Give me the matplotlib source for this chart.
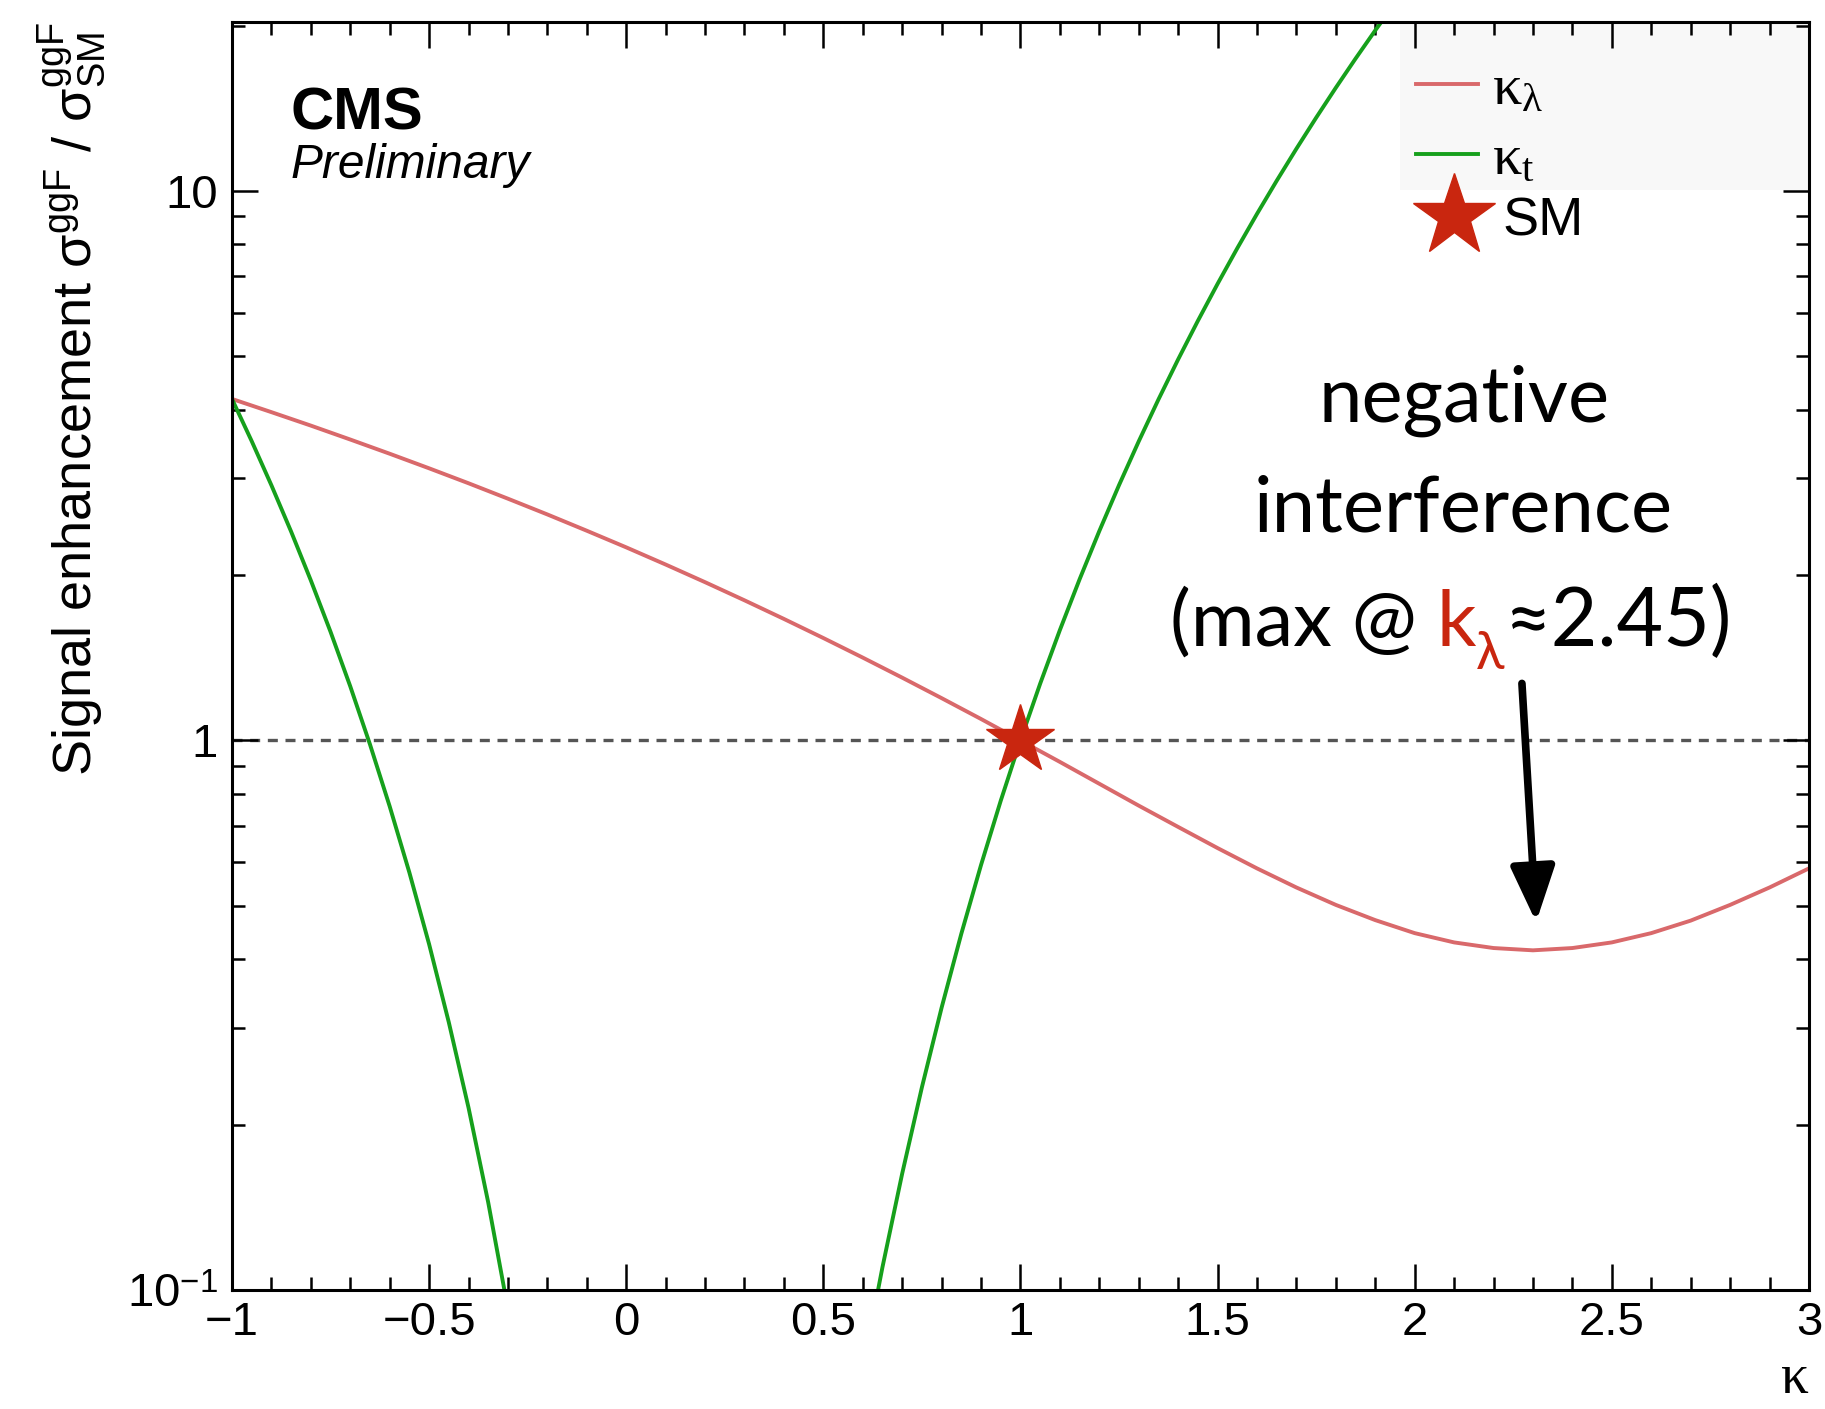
import numpy as np
import matplotlib
matplotlib.use("Agg")
import matplotlib.pyplot as plt
from matplotlib.ticker import MultipleLocator, LogLocator, NullFormatter
from matplotlib.lines import Line2D
from matplotlib.patches import Rectangle

plt.rcParams['font.family'] = ['Liberation Sans', 'DejaVu Sans']
plt.rcParams['mathtext.fontset'] = 'custom'
plt.rcParams['mathtext.rm'] = 'Liberation Sans'
plt.rcParams['mathtext.it'] = 'Liberation Serif'
plt.rcParams['mathtext.sf'] = 'Liberation Sans'

# kappa_lambda scan (kappa_t = 1), ratio to SM
klam_x = [-1.0, -0.9, -0.8, -0.7, -0.6, -0.5, -0.4, -0.3, -0.2, -0.1, 0.0,
          0.1, 0.2, 0.3, 0.4, 0.5, 0.6, 0.7, 0.8, 0.9, 1.0,
          1.1, 1.2, 1.3, 1.4, 1.5, 1.6, 1.7, 1.8, 1.9, 2.0,
          2.1, 2.2, 2.3, 2.4, 2.5, 2.6, 2.7, 2.8, 2.9, 3.0]
klam_y = [4.183, 3.958, 3.741, 3.529, 3.325, 3.128, 2.938, 2.754, 2.578, 2.408, 2.246,
          2.090, 1.941, 1.799, 1.664, 1.536, 1.415, 1.301, 1.194, 1.094, 1.000,
          0.914, 0.834, 0.761, 0.696, 0.637, 0.585, 0.540, 0.502, 0.471, 0.446,
          0.429, 0.419, 0.415, 0.419, 0.429, 0.446, 0.470, 0.502, 0.540, 0.585]

# kappa_t scan (kappa_lambda = 1), two branches
kt_left_x = [-1.0, -0.95, -0.9, -0.85, -0.8, -0.75, -0.7, -0.65, -0.6, -0.55,
             -0.5, -0.45, -0.4, -0.35, -0.3, -0.25]
kt_left_y = [4.183, 3.506, 2.914, 2.400, 1.956, 1.577, 1.255, 0.984, 0.759, 0.575,
             0.426, 0.307, 0.2147, 0.1443, 0.0923, 0.0553]
kt_right_x = [0.6, 0.65, 0.7, 0.75, 0.8, 0.85, 0.9, 0.95, 1.0, 1.05, 1.1, 1.15,
              1.2, 1.25, 1.3, 1.35, 1.4, 1.45, 1.5, 1.55, 1.6, 1.65, 1.7, 1.75,
              1.8, 1.85, 1.9, 1.95]
kt_right_y = [0.0718, 0.110, 0.1628, 0.2337, 0.3263, 0.4448, 0.5933, 0.7767, 1.0,
              1.2685, 1.588, 1.9645, 2.4045, 2.9145, 3.5017, 4.1735, 4.9376, 5.802,
              6.775, 7.866, 9.084, 10.437, 11.936, 13.591, 15.413, 17.412, 19.598, 21.984]

sm_x, sm_y = 1.0, 1.0
arrow_start = (2.272, 1.27)
arrow_end = (2.308, 0.467)

red = '#d9696b'
green = '#16a01c'
star_red = '#c9260f'

fig = plt.figure(figsize=(18.25, 14.09), dpi=100)
ax = fig.add_axes([0.1271, 0.0845, 0.8641, 0.8999])

ax.set_xlim(-1, 3)
ax.set_yscale('log')
ax.set_ylim(0.1, 20.3)

# legend background box
ax.add_patch(Rectangle((0.7407, 0.8675), 0.2593, 0.1325, transform=ax.transAxes,
                       facecolor='#f8f8f8', edgecolor='none', zorder=0))

ax.axhline(1.0, color='#555555', lw=2.4, ls=(0, (3, 2.3)), zorder=1)
ax.plot(klam_x, klam_y, color=red, lw=2.8, zorder=2)
ax.plot(kt_left_x, kt_left_y, color=green, lw=2.8, zorder=2)
ax.plot(kt_right_x, kt_right_y, color=green, lw=2.8, zorder=2)
ax.plot([sm_x], [sm_y], marker='*', ms=52, color=star_red, mec=star_red, ls='none', zorder=5)

ax.annotate('', xy=arrow_end, xytext=arrow_start,
            arrowprops=dict(arrowstyle='-|>,head_length=0.45,head_width=0.18',
                            lw=5.5, color='black', mutation_scale=75,
                            shrinkA=0, shrinkB=0), zorder=6)

# axes style (ROOT like)
ax.xaxis.set_major_locator(MultipleLocator(0.5))
ax.xaxis.set_minor_locator(MultipleLocator(0.1))
ax.set_xticks([-1, -0.5, 0, 0.5, 1, 1.5, 2, 2.5, 3],
              labels=['\u22121', '\u22120.5', '0', '0.5', '1', '1.5', '2', '2.5', '3'])
ax.set_yticks([0.1, 1, 10], labels=[r'10$^{\mathrm{-1}}$', '1', '10'])
ax.yaxis.set_minor_locator(LogLocator(base=10, subs=np.arange(2, 10)))
ax.yaxis.set_minor_formatter(NullFormatter())
ax.tick_params(which='both', direction='in', top=True, right=True, width=1.8)
ax.tick_params(which='major', length=19)
ax.tick_params(which='minor', length=9.5)
ax.tick_params(axis='x', labelsize=34, pad=8)
ax.tick_params(axis='y', labelsize=34, pad=10)
for s in ax.spines.values():
    s.set_linewidth(2.2)

ax.set_ylabel(r'Signal enhancement $\mathrm{\sigma^{ggF}}$ / $\mathrm{\sigma^{ggF}_{SM}}$',
              fontsize=39, loc='top', labelpad=14)
ax.set_xlabel(r'$\kappa$', fontsize=40, loc='right', labelpad=6)

ax.text(0.0374, 0.915, 'CMS', transform=ax.transAxes, fontsize=43,
        fontweight='bold', va='baseline')
ax.text(0.0374, 0.877, 'Preliminary', transform=ax.transAxes, fontsize=34.5,
        fontstyle='italic', va='baseline')

# legend: two lines inside the grey box, SM star below it
line_handles = [Line2D([], [], color=red, lw=2.8),
                Line2D([], [], color=green, lw=2.8)]
leg1 = ax.legend(line_handles, [r'$\kappa_{\lambda}$', r'$\kappa_{t}$'],
                 loc='upper left', bbox_to_anchor=(0.751, 0.968),
                 frameon=False, fontsize=42, handlelength=1.05, handletextpad=0.25,
                 labelspacing=0.27, borderpad=0, borderaxespad=0)
ax.add_artist(leg1)
star_handle = [Line2D([], [], marker='*', ms=62, color=star_red, ls='none')]
ax.legend(star_handle, ['SM'], loc='center left', bbox_to_anchor=(0.754, 0.843),
          frameon=False, fontsize=39, handlelength=1.2, handletextpad=0.3,
          borderpad=0, borderaxespad=0)

# annotation text
afont = dict(family='Lato', fontsize=56, color='black')
ax.text(0.781, 0.685, 'negative', transform=ax.transAxes, ha='center', va='baseline', **afont)
ax.text(0.781, 0.598, 'interference', transform=ax.transAxes, ha='center', va='baseline', **afont)
t1 = ax.text(0.595, 0.508, '(max @ ', transform=ax.transAxes, ha='left', va='baseline', **afont)
t2 = ax.annotate('k', xy=(1, 0), xycoords=t1, ha='left', va='bottom',
                 family='Lato', fontsize=56, color=star_red)
t3 = ax.annotate('\u03bb', xy=(1, 0), xycoords=t2, xytext=(0, -13), textcoords='offset points',
                 ha='left', va='bottom', family=['Lato', 'DejaVu Sans'], fontsize=38, color=star_red)
t4 = ax.annotate('\u22482.45)', xy=(1, 0), xycoords=(t3, t2), ha='left', va='bottom',
                 family=['Lato', 'DejaVu Sans'], fontsize=58, color='black')

fig.savefig('out.png', dpi=100, facecolor='white')
